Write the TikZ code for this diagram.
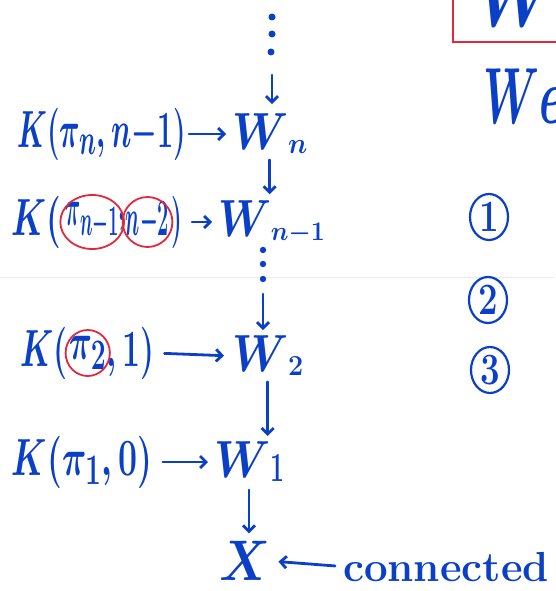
\documentclass[tikz,border=0pt]{standalone}
\usetikzlibrary{arrows.meta,shapes.geometric,fit}
\definecolor{ink}{HTML}{0B3FC6}
\definecolor{redink}{HTML}{E2283E}
\newcommand\hw[3]{\scalebox{#1}[#2]{#3}}
\newcommand\lowsub[3]{\raisebox{-4pt}{\scalebox{#1}[#2]{$\scriptstyle #3$}}}
\begin{document}
\begin{tikzpicture}[x=1pt,y=1pt,
 every node/.style={text=ink, inner sep=0pt, outer sep=0pt, font=\fontsize{24.88}{30}\selectfont\boldmath\bfseries},
 numtxt/.style={draw=ink, line width=2.2pt, ellipse, minimum width=38pt, minimum height=46pt},
 arr/.style={draw=ink, line width=2.8pt, line cap=round, -{Straight Barb[length=6pt,width=12pt,line width=2.8pt]}},
 ring/.style={draw=redink, line width=1.8pt, ellipse},
 dotmark/.style={fill=ink}
]
\useasboundingbox (0,0) rectangle (555,-591);
% fold of the paper
\draw[black!7, line width=1pt] (0,-277) -- (555,-277);

% boxed title, cut by the edge
\draw[redink, line width=2pt] (453,4) -- (453,-42) -- (560,-42);
\node[anchor=base west] (boxW) at (476,-27) {\hw{2.7}{3.6}{$W$}};
\node[anchor=base west] (We) at (483,-124) {\hw{1.8}{3.2}{$We$}};

% circled numbers
\node[numtxt] (c1) at (489,-217) {\hw{1.4}{1.8}{1}};
\node[numtxt] (c2) at (488,-300) {\hw{1.4}{1.8}{2}};
\node[numtxt] (c3) at (490,-370) {\hw{1.4}{1.8}{3}};

% top dots
\fill[dotmark] (272,-17) circle (3.5);
\fill[dotmark] (272,-34) circle (3.5);
\fill[dotmark] (271,-52) circle (3.5);
\coordinate (topd) at (272,-55);

% row n
\node[anchor=west] (Wn) at (232,-134) {\hw{1.8}{2.1}{$W$}\lowsub{1.3}{1.4}{n}};
\node[anchor=east] (Kn) at (186,-134) {\hw{1.15}{2.1}{$K(\pi_n, n{-}1)$}};
\draw[arr, shorten <=3pt, shorten >=6pt] (Kn.east) -- (Wn.west);
\draw[arr, shorten <=20pt, shorten >=10pt] (topd) -- (topd |- Wn.north);

% row n-1
\node[anchor=west] (Kn1a) at (12,-222) {\hw{1.35}{2.1}{$K($}};
\node[anchor=west] (Kn1b) at ([xshift=4pt]Kn1a.east) {\hw{0.85}{2.1}{$\pi_{n-1}$}};
\node[anchor=west] (Kn1c) at (Kn1b.east) {\hw{0.9}{2.1}{$,$}};
\node[anchor=west] (Kn1d) at (Kn1c.east) {\hw{0.8}{2.1}{$n{-}2$}};
\node[anchor=west] (Kn1e) at ([xshift=2pt]Kn1d.east) {\hw{1.0}{2.1}{$)$}};
\node[ring, fit=(Kn1b), inner sep=-4pt, minimum height=54pt] (r1) {};
\node[ring, fit=(Kn1d), inner sep=-4pt, minimum height=50pt] (r2) {};
\node[anchor=west] (Wn1) at (218,-222) {\hw{1.7}{2.1}{$W$}\lowsub{1.2}{1.3}{n{-}1}};
\draw[arr, shorten <=10pt, shorten >=6pt] (Kn1e.east) -- (Wn1.west);
\draw[arr, shorten <=6pt, shorten >=6pt] (Wn.south) -- (Wn.south |- Wn1.north);

% dots below W_{n-1}
\fill[dotmark] (263,-250) circle (3.2);
\fill[dotmark] (263,-264) circle (3.2);
\fill[dotmark] (263,-279) circle (3.2);
\coordinate (midd) at (263,-282);

% row 2
\node[anchor=west] (K2a) at (20,-353) {\hw{1.28}{2.1}{$K($}};
\node[anchor=west] (K2b) at ([xshift=2pt]K2a.east) {\hw{1.28}{2.1}{$\pi_2$}};
\node[anchor=west] (K2c) at (K2b.east) {\hw{1.28}{2.1}{$,1)$}};
\node[ring, fit=(K2b), inner sep=-3pt, minimum height=46pt] (r3) {};
\node[anchor=west] (W2) at (232,-356) {\hw{1.8}{2.1}{$W$}\lowsub{1.3}{1.4}{2}};
\draw[arr, shorten <=10pt, shorten >=8pt] (K2c.east) -- (W2.west);
\draw[arr, shorten <=12pt, shorten >=6pt] (midd) -- (midd |- W2.north);

% row 1
\node[anchor=west] (K1) at (12,-462) {\hw{1.36}{2.1}{$K(\pi_1, 0)$}};
\node[anchor=west] (W1) at (214,-462) {\hw{1.8}{2.1}{$W$}\lowsub{1.2}{2.0}{1}};
\draw[arr, shorten <=10pt, shorten >=6pt] (K1.east) -- (W1.west);
\draw[arr, shorten <=6pt, shorten >=6pt] (W2.south) -- (W2.south |- W1.north);

% base
\node (X) at (245,-561) {\hw{2.0}{2.3}{$X$}};
\draw[arr, shorten <=8pt, shorten >=8pt] (W1.south) -- (W1.south |- X.north);
\node[font=\fontsize{42}{50}\selectfont\bfseries, anchor=base west] (conn) at (343,-581) {connected};
\draw[arr, shorten <=8pt, shorten >=8pt] (conn.west) -- (X.east);
\end{tikzpicture}
\end{document}
